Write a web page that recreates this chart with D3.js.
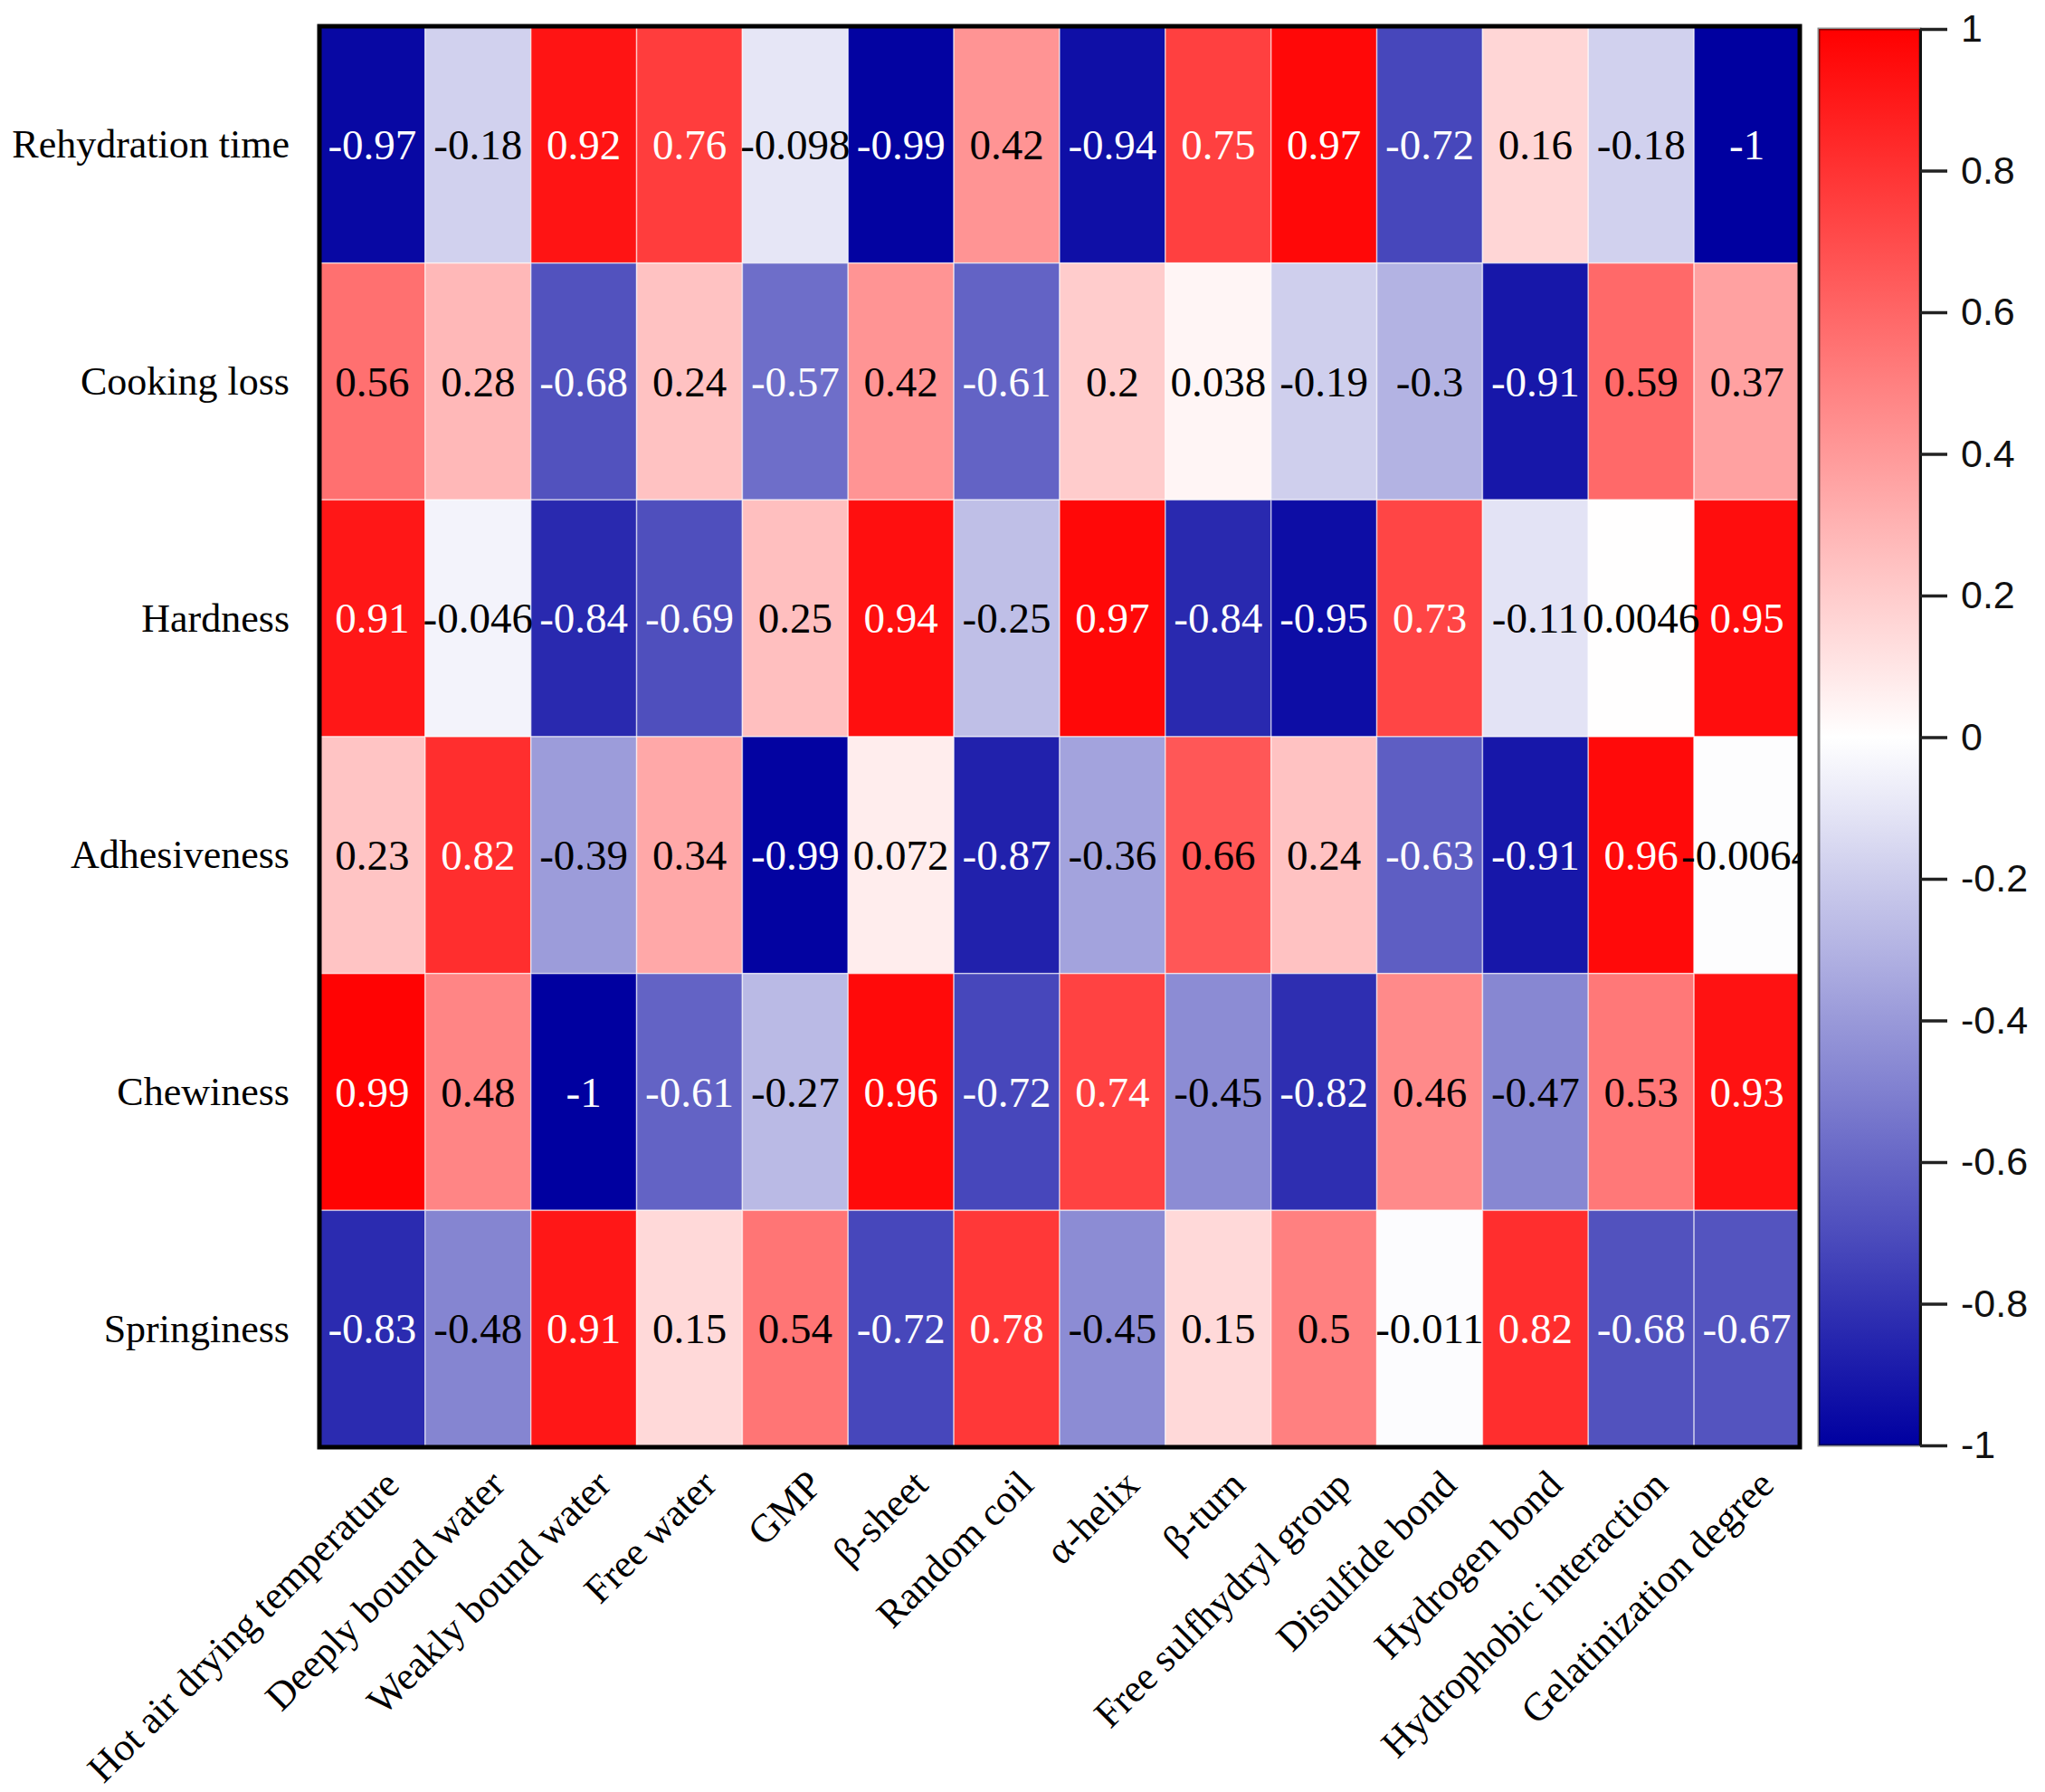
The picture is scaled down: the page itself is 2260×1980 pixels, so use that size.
<!DOCTYPE html>
<html>
<head>
<meta charset="utf-8">
<script src="https://cdn.jsdelivr.net/npm/d3@7"></script>
<style>
  html, body { margin: 0; padding: 0; background: #ffffff; }
  svg { display: block; }
</style>
</head>
<body>
<svg id="chart" width="2260" height="1980"></svg>
<script>
// ---------------- data ----------------
const rowLabels = ["Rehydration time", "Cooking loss", "Hardness", "Adhesiveness", "Chewiness", "Springiness"];
const colLabels = ["Hot air drying temperature", "Deeply bound water", "Weakly bound water", "Free water", "GMP",
  "β-sheet", "Random coil", "α-helix", "β-turn", "Free sulfhydryl group", "Disulfide bond", "Hydrogen bond",
  "Hydrophobic interaction", "Gelatinization degree"];

const rehydrationTime = [-0.97, -0.18, 0.92, 0.76, -0.098, -0.99, 0.42, -0.94, 0.75, 0.97, -0.72, 0.16, -0.18, -1];
const cookingLoss     = [0.56, 0.28, -0.68, 0.24, -0.57, 0.42, -0.61, 0.2, 0.038, -0.19, -0.3, -0.91, 0.59, 0.37];
const hardness        = [0.91, -0.046, -0.84, -0.69, 0.25, 0.94, -0.25, 0.97, -0.84, -0.95, 0.73, -0.11, 0.0046, 0.95];
const adhesiveness    = [0.23, 0.82, -0.39, 0.34, -0.99, 0.072, -0.87, -0.36, 0.66, 0.24, -0.63, -0.91, 0.96, -0.0064];
const chewiness       = [0.99, 0.48, -1, -0.61, -0.27, 0.96, -0.72, 0.74, -0.45, -0.82, 0.46, -0.47, 0.53, 0.93];
const springiness     = [-0.83, -0.48, 0.91, 0.15, 0.54, -0.72, 0.78, -0.45, 0.15, 0.5, -0.011, 0.82, -0.68, -0.67];

const colorTicks = [1, 0.8, 0.6, 0.4, 0.2, 0, -0.2, -0.4, -0.6, -0.8, -1];

const matrix = [rehydrationTime, cookingLoss, hardness, adhesiveness, chewiness, springiness];
const cells = [];
matrix.forEach((row, r) => row.forEach((v, c) => cells.push({ row: rowLabels[r], col: colLabels[c], v })));

// ---------------- layout ----------------
const svg = d3.select("#chart");
const pLeft = 353, pRight = 1989, pTop = 29, pBottom = 1599;
const cbLeft = 2010, cbRight = 2122, cbTop = 32, cbBottom = 1597;

const x = d3.scaleBand().domain(colLabels).range([pLeft, pRight]).padding(0);
const y = d3.scaleBand().domain(rowLabels).range([pTop, pBottom]).padding(0);
const color = d3.scaleLinear().domain([-1, 0, 1]).range(["#0000a0", "#ffffff", "#ff0000"]).interpolate(d3.interpolateRgb);

const serif = "'Liberation Serif', 'Times New Roman', 'DejaVu Serif', serif";
const sans = "'Liberation Sans', Arial, 'DejaVu Sans', sans-serif";

const defs = svg.append("defs");
defs.append("clipPath").attr("id", "plotClip")
  .append("rect").attr("x", pLeft).attr("y", pTop).attr("width", pRight - pLeft).attr("height", pBottom - pTop);

// cells
svg.append("g").selectAll("rect").data(cells).join("rect")
  .attr("x", d => x(d.col)).attr("y", d => y(d.row))
  .attr("width", x.bandwidth()).attr("height", y.bandwidth())
  .attr("fill", d => color(d.v))
  .attr("stroke", "rgba(255,255,255,0.55)").attr("stroke-width", 1.5);

// values
svg.append("g").attr("clip-path", "url(#plotClip)")
  .selectAll("text").data(cells).join("text")
  .attr("x", d => x(d.col) + x.bandwidth() / 2)
  .attr("y", d => y(d.row) + y.bandwidth() / 2)
  .attr("text-anchor", "middle").attr("dominant-baseline", "central")
  .attr("font-family", serif).attr("font-size", 47)
  .attr("fill", d => (d.v > 0.68 || d.v < -0.5) ? "#ffffff" : "#000000")
  .text(d => String(d.v));

// plot border
svg.append("rect").attr("x", pLeft).attr("y", pTop).attr("width", pRight - pLeft).attr("height", pBottom - pTop)
  .attr("fill", "none").attr("stroke", "#000").attr("stroke-width", 5);

// row labels
svg.append("g").selectAll("text").data(rowLabels).join("text")
  .attr("x", 320).attr("y", d => y(d) + y.bandwidth() / 2)
  .attr("text-anchor", "end").attr("dominant-baseline", "central")
  .attr("font-family", serif).attr("font-size", 44).attr("fill", "#000")
  .text(d => d);

// column labels (rotated)
svg.append("g").selectAll("text").data(colLabels).join("text")
  .attr("transform", d => `translate(${x(d) + x.bandwidth() / 2 + 32},${pBottom + 44}) rotate(-45)`)
  .attr("text-anchor", "end")
  .attr("font-family", serif).attr("font-size", 43.5).attr("fill", "#000")
  .text(d => d);

// ---------------- colour bar ----------------
const grad = defs.append("linearGradient").attr("id", "cbGrad")
  .attr("x1", 0).attr("y1", 1).attr("x2", 0).attr("y2", 0);
d3.range(-1, 1.0001, 0.1).forEach(v => {
  grad.append("stop").attr("offset", ((v + 1) / 2 * 100) + "%").attr("stop-color", color(v));
});
svg.append("rect").attr("x", cbLeft).attr("y", cbTop).attr("width", cbRight - cbLeft).attr("height", cbBottom - cbTop)
  .attr("fill", "url(#cbGrad)").attr("stroke", "rgba(0,0,0,0.45)").attr("stroke-width", 3);

const cbScale = d3.scaleLinear().domain([-1, 1]).range([cbBottom, cbTop]);
const cbAxis = d3.axisRight(cbScale).tickValues(colorTicks).tickSize(30).tickSizeOuter(0).tickPadding(15)
  .tickFormat(d => String(d));
const ga = svg.append("g").attr("transform", `translate(${cbRight},0)`).call(cbAxis);
ga.select(".domain").attr("stroke", "#111").attr("stroke-width", 3);
ga.selectAll(".tick line").attr("stroke", "#222").attr("stroke-width", 3.5);
ga.selectAll(".tick text").attr("font-family", sans).attr("font-size", 43).attr("fill", "#111");
</script>
</body>
</html>
